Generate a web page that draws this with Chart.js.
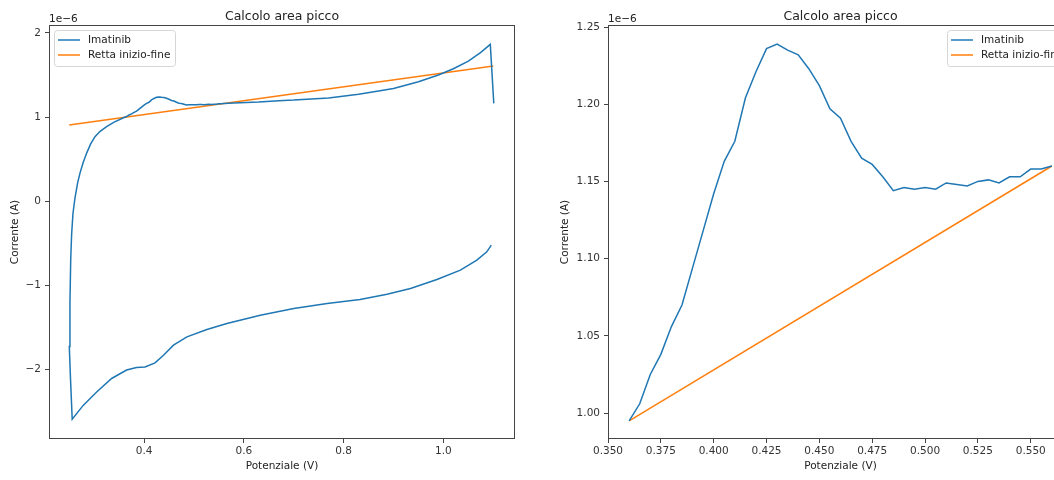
<!DOCTYPE html>
<html>
<head>
<meta charset="utf-8">
<script src="https://cdn.jsdelivr.net/npm/chart.js@4.4.1/dist/chart.umd.min.js"></script>
<style>
  html, body { margin: 0; padding: 0; background: #fff; overflow: hidden; width: 1054px; height: 480px; }
  canvas { position: absolute; top: 0; }
  #left { left: 0; }
  #right { left: 540px; }
</style>
</head>
<body>
<canvas id="left" width="540" height="480"></canvas>
<canvas id="right" width="560" height="480"></canvas>
<script>
// currents are in units of 1e-6 A (shown as the "1e−6" offset text)
// lower branch, from the right end back to the minimum
const lowerX = [1.096, 1.087, 1.067, 1.034, 0.987, 0.934, 0.887, 0.833, 0.767, 0.700, 0.633, 0.566, 0.526, 0.486, 0.459, 0.439, 0.422, 0.402, 0.385, 0.365, 0.335, 0.305, 0.278, 0.256];
const lowerY = [-0.524, -0.603, -0.702, -0.821, -0.933, -1.04, -1.107, -1.17, -1.218, -1.278, -1.357, -1.456, -1.528, -1.615, -1.714, -1.833, -1.925, -1.973, -1.98, -2.01, -2.11, -2.27, -2.43, -2.595];
// steep rise on the left, up to the start of the peak window
const riseX = [0.2525, 0.2502, 0.2515, 0.253, 0.2548, 0.2575, 0.2616, 0.267, 0.2716, 0.278, 0.285, 0.293, 0.3017, 0.312, 0.325, 0.34];
const riseY = [-2.1, -1.73, -1.2, -0.7, -0.4, -0.15, 0.04, 0.22, 0.333, 0.46, 0.571, 0.68, 0.766, 0.83, 0.885, 0.94];
// peak window (right panel)
const peakX = [0.360, 0.365, 0.370, 0.375, 0.380, 0.385, 0.390, 0.395, 0.400, 0.405, 0.410, 0.415, 0.420, 0.425, 0.430, 0.435, 0.440, 0.445, 0.450, 0.455, 0.460, 0.465, 0.470, 0.475, 0.480, 0.485, 0.490, 0.495, 0.500, 0.505, 0.510, 0.515, 0.520, 0.525, 0.530, 0.535, 0.540, 0.545, 0.550, 0.555, 0.560];
const peakY = [0.995, 1.006, 1.025, 1.038, 1.056, 1.070, 1.094, 1.118, 1.142, 1.163, 1.176, 1.204, 1.221, 1.236, 1.239, 1.235, 1.232, 1.223, 1.212, 1.197, 1.191, 1.176, 1.165, 1.161, 1.153, 1.144, 1.146, 1.145, 1.146, 1.145, 1.149, 1.148, 1.147, 1.150, 1.151, 1.149, 1.153, 1.153, 1.158, 1.158, 1.160];
// upper branch after the peak window
const tailX = [0.58, 0.63, 0.67, 0.70, 0.77, 0.83, 0.87, 0.90, 0.95, 0.99, 1.02, 1.05, 1.075, 1.094, 1.101];
const tailY = [1.168, 1.180, 1.195, 1.202, 1.228, 1.27, 1.31, 1.34, 1.42, 1.50, 1.575, 1.665, 1.77, 1.865, 1.163];
// baseline "Retta inizio-fine"
const baseLeftX = [0.25, 1.10];
const baseLeftY = [0.905, 1.607];
const baseRightX = [0.36, 0.56];
const baseRightY = [0.995, 1.160];

const xTicksLeft = [0.4, 0.6, 0.8, 1.0];
const yTicksLeft = [-2, -1, 0, 1, 2];
const xTicksRight = [0.350, 0.375, 0.400, 0.425, 0.450, 0.475, 0.500, 0.525, 0.550];
const yTicksRight = [1.00, 1.05, 1.10, 1.15, 1.20, 1.25];

const seriesNames = ['Imatinib', 'Retta inizio-fine'];
const BLUE = '#1f77b4', ORANGE = '#ff7f0e';
const FONT = '"DejaVu Sans", sans-serif';

const zip = (xs, ys) => xs.map((x, i) => ({ x: x, y: ys[i] }));
const minus = s => s.replace('-', '\u2212');

const decor = {
  id: 'decor',
  afterDraw(chart, args, o) {
    const ctx = chart.ctx, a = chart.chartArea;
    ctx.save();
    ctx.strokeStyle = '#444';
    ctx.lineWidth = 1;
    ctx.strokeRect(Math.round(a.left) + 0.5, Math.round(a.top) + 0.5, Math.round(a.right - a.left) - 1, Math.round(a.bottom - a.top) - 1);
    const cx = (a.left + a.right) / 2;
    ctx.fillStyle = '#222';
    ctx.textAlign = 'center';
    ctx.textBaseline = 'alphabetic';
    ctx.font = '12.5px ' + FONT;
    ctx.fillText('Calcolo area picco', cx, 20);
    ctx.font = '10.5px ' + FONT;
    ctx.fillText('Potenziale (V)', cx, 469);
    ctx.textAlign = 'left';
    ctx.fillText('1e\u22126', a.left, 22);
    ctx.save();
    ctx.translate(o.yTitleX, (a.top + a.bottom) / 2);
    ctx.rotate(-Math.PI / 2);
    ctx.textAlign = 'center';
    ctx.textBaseline = 'middle';
    ctx.fillText('Corrente (A)', 0, 0);
    ctx.restore();
    // legend
    const w = 121, h = 36;
    const bx = o.legendRight ? a.right - 5 - w : a.left + 5;
    const by = a.top + 5;
    ctx.beginPath();
    ctx.roundRect(bx + 0.5, by + 0.5, w, h, 3);
    ctx.fillStyle = 'rgba(255,255,255,0.8)';
    ctx.fill();
    ctx.strokeStyle = '#d6d6d6';
    ctx.stroke();
    [BLUE, ORANGE].forEach((c, i) => {
      const ry = by + 10 + i * 15;
      ctx.beginPath();
      ctx.moveTo(bx + 4, ry);
      ctx.lineTo(bx + 26, ry);
      ctx.strokeStyle = c;
      ctx.lineWidth = 1.5;
      ctx.stroke();
      ctx.fillStyle = '#222';
      ctx.textAlign = 'left';
      ctx.textBaseline = 'middle';
      ctx.fillText(seriesNames[i], bx + 34, ry);
    });
    ctx.restore();
  }
};

function makeChart(id, cfg) {
  const tickFont = { family: FONT, size: 10.5 };
  const gridOpts = { drawOnChartArea: false, drawTicks: true, tickLength: 4, color: '#444' };
  return new Chart(document.getElementById(id), {
    type: 'line',
    data: {
      datasets: [
        { label: seriesNames[0], data: cfg.blue, borderColor: BLUE, borderWidth: 1.5, pointRadius: 0, tension: 0, fill: false },
        { label: seriesNames[1], data: cfg.orange, borderColor: ORANGE, borderWidth: 1.5, pointRadius: 0, tension: 0, fill: false }
      ]
    },
    options: {
      responsive: false,
      animation: false,
      layout: { padding: { top: 25, right: cfg.padRight, left: 0, bottom: 0 } },
      plugins: { legend: { display: false }, tooltip: { enabled: false }, title: { display: false }, decor: { yTitleX: cfg.yTitleX, legendRight: cfg.legendRight } },
      scales: {
        x: {
          type: 'linear', min: cfg.xMin, max: cfg.xMax,
          border: { display: false },
          grid: gridOpts,
          afterBuildTicks: s => { s.ticks = cfg.xTicks.map(v => ({ value: v })); },
          afterFit: s => { s.height = 41; },
          ticks: { font: tickFont, color: '#333', padding: 2, maxRotation: 0, autoSkip: false, callback: v => cfg.xFmt(v) }
        },
        y: {
          type: 'linear', min: cfg.yMin, max: cfg.yMax,
          border: { display: false },
          grid: gridOpts,
          afterBuildTicks: s => { s.ticks = cfg.yTicks.map(v => ({ value: v })); },
          afterFit: s => { s.width = cfg.yWidth; },
          ticks: { font: tickFont, color: '#333', padding: 4, autoSkip: false, callback: v => cfg.yFmt(v) }
        }
      }
    },
    plugins: [decor]
  });
}

makeChart('left', {
  blue: zip(lowerX.concat(riseX, peakX, tailX), lowerY.concat(riseY, peakY, tailY)),
  orange: zip(baseLeftX, baseLeftY),
  xMin: 0.2095, xMax: 1.1435, yMin: -2.83, yMax: 2.095,
  xTicks: xTicksLeft, yTicks: yTicksLeft,
  xFmt: v => v.toFixed(1), yFmt: v => minus(String(v)),
  padRight: 25, yWidth: 49, yTitleX: 15, legendRight: false
});

makeChart('right', {
  blue: zip(peakX, peakY),
  orange: zip(baseRightX, baseRightY),
  xMin: 0.35, xMax: 0.57, yMin: 0.9832, yMax: 1.2513,
  xTicks: xTicksRight, yTicks: yTicksRight,
  xFmt: v => v.toFixed(3), yFmt: v => v.toFixed(2),
  padRight: 27, yWidth: 68, yTitleX: 25, legendRight: true
});
</script>
</body>
</html>
